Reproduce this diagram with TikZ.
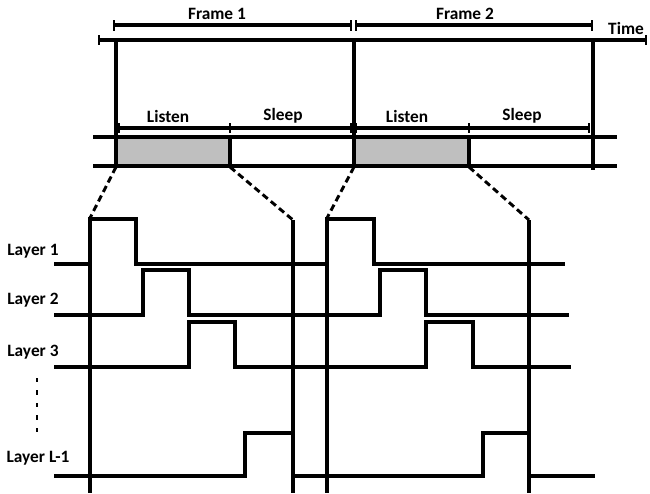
\documentclass[tikz,border=0pt]{standalone}
\usepackage{fontspec}
\setmainfont{Carlito}
\begin{document}
\begin{tikzpicture}[x=0.75pt,y=-0.75pt,
  ln/.style={line width=2.4pt},
  wave/.style={line width=2.4pt,line join=miter},
  dsh/.style={line width=2.2pt,dash pattern=on 5pt off 3pt},
  lbl/.style={font=\bfseries\fontsize{13}{15}\selectfont,inner sep=0pt},
  tk/.style={line width=2.2pt}]
\useasboundingbox (0,0) rectangle (650,493);
% gray fills
\fill[gray!50] (116,137) rectangle (230,166);
\fill[gray!50] (354,137) rectangle (469,166);
% time axis
\draw[ln] (99,40) -- (646,40);
\draw[tk] (99,35) -- (99,45);
\draw[tk] (646,35) -- (646,45);
\node[lbl,anchor=south] (time) at (626,35) {Time};
% frame brackets
\draw[ln] (114,25) -- (351,25);
\draw[tk] (114,20) -- (114,31); \draw[tk] (351,20) -- (351,31);
\draw[ln] (356,25) -- (592,25);
\draw[tk] (356,20) -- (356,31); \draw[tk] (592,20) -- (592,31);
\node[lbl] (f1) at (217,14) {Frame 1};
\node[lbl] (f2) at (465,14) {Frame 2};
% band lines
\draw[ln] (93,137) -- (617,137);
\draw[ln] (93,166) -- (617,166);
% frame verticals
\draw[ln] (116,40) -- (116,168);
\draw[ln] (354,40) -- (354,168);
\draw[ln] (593,40) -- (593,170);
\draw[ln] (230,137) -- (230,166);
\draw[ln] (469,137) -- (469,166);
% listen/sleep brackets
\draw[ln] (119,128) -- (351,128);
\foreach \x in {119,230,351} \draw[tk] (\x,123) -- (\x,133);
\draw[ln] (356,128) -- (589,128);
\foreach \x in {356,469,589} \draw[tk] (\x,123) -- (\x,133);
\node[lbl] (l1) at (168,116) {Listen};
\node[lbl] (s1) at (283,116) {Sleep};
\node[lbl] (l2) at (407,116) {Listen};
\node[lbl] (s2) at (522,116) {Sleep};
% dashed zoom lines
\draw[dsh] (116,167) -- (90,218);
\draw[dsh] (230,167) -- (293,220);
\draw[dsh] (354,167) -- (327,218);
\draw[dsh] (469,167) -- (529,220);
% lower verticals
\draw[ln] (90,218) -- (90,493);
\draw[ln] (293,220) -- (293,493);
\draw[ln] (327,218) -- (327,493);
\draw[ln] (529,220) -- (529,493);
% waveforms
\draw[wave] (54,264) -- (90,264) -- (90,219) -- (136,219) -- (136,264) -- (327,264) -- (327,219) -- (374,219) -- (374,264) -- (565,264);
\draw[wave] (54,315) -- (143,315) -- (143,270) -- (189,270) -- (189,315) -- (380,315) -- (380,270) -- (426,270) -- (426,315) -- (569,315);
\draw[wave] (54,367) -- (189,367) -- (189,322) -- (235,322) -- (235,367) -- (426,367) -- (426,322) -- (473,322) -- (473,367) -- (571,367);
\draw[wave] (54,476) -- (245,476) -- (245,433) -- (293,433);
\draw[wave] (293,476) -- (483,476) -- (483,433) -- (529,433);
\draw[wave] (529,476) -- (595,476);
% labels
\node[lbl] (ly1) at (33,251) {Layer 1};
\node[lbl] (ly2) at (33,300) {Layer 2};
\node[lbl] (ly3) at (33,352) {Layer 3};
\node[lbl] (lyl) at (38,458) {Layer L-1};
\foreach \y in {380,392.5,405,417.5,430} \fill (35.5,\y-2.2) rectangle (38,\y+2.2);
\end{tikzpicture}
\end{document}
